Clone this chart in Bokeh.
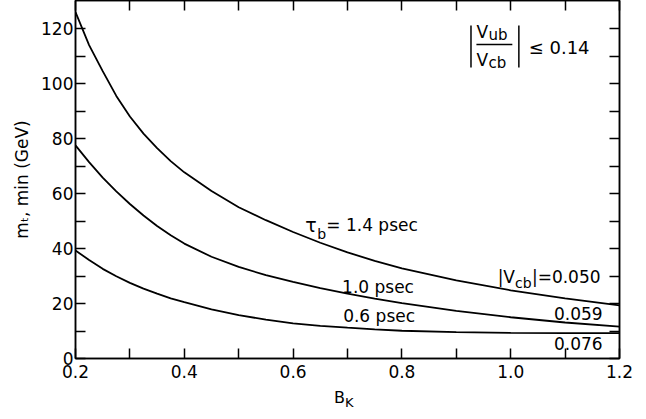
from bokeh.plotting import figure
from bokeh.models import LinearAxis, FixedTicker, Label, Range1d, Div, PrintfTickFormatter
from bokeh.layouts import column
from bokeh.embed import file_html
from bokeh.resources import INLINE

# ---- data ----
b_k = [0.2, 0.225, 0.25, 0.275, 0.3, 0.325, 0.35, 0.375, 0.4, 0.45, 0.5, 0.55,
       0.6, 0.65, 0.7, 0.75, 0.8, 0.9, 1.0, 1.1, 1.2]
mt_tau_14 = [126, 114, 104.5, 95.5, 88, 81.8, 76.5, 71.8, 67.7, 60.9, 55, 50.3,
             46, 42.1, 38.6, 35.5, 32.8, 28.4, 24.8, 21.9, 19.3]
mt_tau_10 = [77.5, 71.4, 65.8, 60.8, 56.2, 52.0, 48.2, 44.8, 41.8, 37.0, 33.3, 30.3,
             27.9, 25.6, 23.6, 21.8, 20.1, 17.3, 15.0, 13.1, 11.6]
mt_tau_06 = [39.3, 35.8, 32.6, 29.9, 27.5, 25.4, 23.6, 21.9, 20.5, 17.9, 15.8, 14.1,
             12.8, 11.9, 11.2, 10.6, 10.1, 9.6, 9.3, 9.2, 9.2]

x_major = [0.2, 0.4, 0.6, 0.8, 1.0, 1.2]
x_minor = [0.3, 0.5, 0.7, 0.9, 1.1]
y_major = [0, 20, 40, 60, 80, 100, 120]
y_minor = [10, 30, 50, 70, 90, 110]

FONT = "DejaVu Sans"

p = figure(frame_width=544, frame_height=358, output_backend="svg",
           toolbar_location=None, x_range=Range1d(0.2, 1.2), y_range=Range1d(0, 130.2),
           min_border_left=75, min_border_right=20, min_border_top=0, min_border_bottom=28,
           margin=(0, 0, 0, 0))
p.grid.visible = False
p.outline_line_color = "black"
p.outline_line_width = 1.5
p.background_fill_color = "white"
p.border_fill_color = "white"

xt = FixedTicker(ticks=x_major, minor_ticks=x_minor)
yt = FixedTicker(ticks=y_major, minor_ticks=y_minor)


def style(ax, labels=True, ticks=()):
    ax.axis_line_color = "black"
    ax.axis_line_width = 1.5
    ax.major_tick_in = 10
    ax.major_tick_out = 0
    ax.minor_tick_in = 10
    ax.minor_tick_out = 0
    ax.major_tick_line_width = 1.5
    ax.minor_tick_line_width = 1.5
    ax.major_tick_line_color = "black"
    ax.minor_tick_line_color = "black"
    if labels:
        ax.major_label_text_font = FONT
        ax.major_label_text_font_size = "17px"
        ax.major_label_text_color = "black"
    else:
        ax.major_label_overrides = {t: "" for t in ticks}
        ax.major_label_text_font_size = "0px"
        ax.major_label_standoff = 0


xa = p.xaxis[0]
xa.ticker = xt
xa.formatter = PrintfTickFormatter(format="%.1f")
style(xa)
xa.major_label_standoff = 6

ya = p.yaxis[0]
ya.ticker = yt
style(ya)
ya.major_label_standoff = 2
ya.axis_label = "m\u209c, min (GeV)"
ya.axis_label_text_font = FONT
ya.axis_label_text_font_size = "17px"
ya.axis_label_text_font_style = "normal"
ya.axis_label_text_color = "black"
ya.axis_label_standoff = 6

top = LinearAxis(ticker=xt)
style(top, labels=False, ticks=x_major)
p.add_layout(top, "above")
right = LinearAxis(ticker=yt)
style(right, labels=False, ticks=y_major)
p.add_layout(right, "right")

for ys in (mt_tau_14, mt_tau_10, mt_tau_06):
    p.line(b_k, ys, line_color="black", line_width=1.8)


def lab(x, y, text, size="17px", align="left", baseline="middle"):
    p.add_layout(Label(x=x, y=y, text=text, text_font=FONT, text_font_size=size,
                       text_align=align, text_baseline=baseline, text_color="black"))


# curve labels
lab(0.6224, 48.6, "\u03c4", "19px")
lab(0.6445, 45.4, "b", "14px")
lab(0.661, 48.4, "= 1.4 psec")
lab(0.690, 25.9, "1.0 psec")
lab(0.692, 15.3, "0.6 psec")

# |Vcb| labels
lab(0.976, 29.6, "|V")
lab(1.008, 27.4, "cb", "14px")
lab(1.039, 29.6, "|=0.050")
lab(1.169, 16.2, "0.059", align="right")
lab(1.169, 5.3, "0.076", align="right")

# |Vub/Vcb| <= 0.14 annotation
lab(0.937, 118.6, "V", "17px")
lab(0.959, 117.6, "ub", "15px")
lab(0.937, 108.6, "V", "17px")
lab(0.959, 107.6, "cb", "15px")
lab(1.033, 113.1, "\u2264 0.14", "18px")
p.segment(x0=[0.937, 0.927, 1.015], y0=[114.2, 121.1, 121.1],
          x1=[1.003, 0.927, 1.015], y1=[114.2, 105.8, 105.8],
          line_color="black", line_width=1.5)

# x axis label B_K (HTML text below the plot)
xlabel = Div(text='<span style="font-family:\'DejaVu Sans\';font-size:16px;color:black">'
                  'B<sub style="font-size:13px">K</sub></span>',
             width=639, height=30, margin=(0, 0, 0, 0),
             styles={"padding-left": "334px", "padding-top": "3px", "line-height": "18px"})

layout = column(p, xlabel, spacing=0)
open("out.html", "w").write(file_html(layout, INLINE))
